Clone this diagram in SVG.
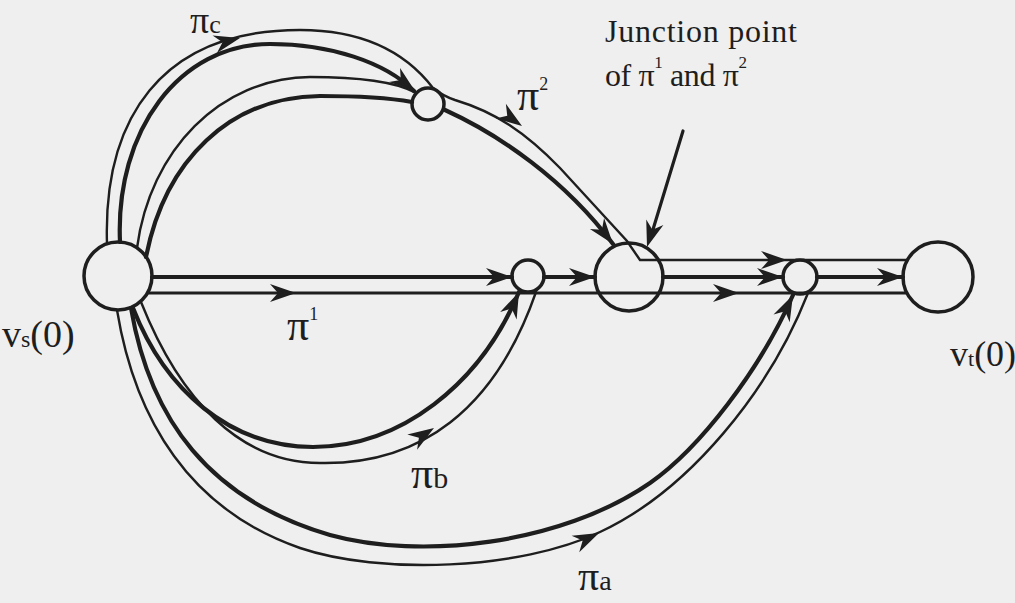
<svg xmlns="http://www.w3.org/2000/svg" width="1015" height="603" viewBox="0 0 1015 603">
<style>
.nd{fill:none;stroke:#1e1e1e;stroke-width:3.5}
.thk{fill:none;stroke:#1e1e1e;stroke-width:4.2;stroke-linecap:round}
.thn{fill:none;stroke:#1e1e1e;stroke-width:2.4;stroke-linecap:round}
.med{fill:none;stroke:#1e1e1e;stroke-width:3.2;stroke-linecap:round}
.ah{fill:#1e1e1e}
.lb{font-family:"Liberation Serif","DejaVu Serif",serif;fill:#1e1e1e}
</style>
<defs>
<path id="ah" class="ah" d="M0,0 L-26,-9 L-18,0 L-26,9 Z"/>
</defs>
<rect x="0" y="0" width="1015" height="603" fill="#efefef"/>

<g id="connectors">
  <!-- top arcs -->
  <path class="thn" d="M107,244 C103,120 160,30 300,30 C370,30 410,58 433,88 Q443,96 455,100 C495,112 525,132 560,168 L627,241 L640,260 L906,260"/>
  <path class="thk" d="M120,242 C115,130 180,44 270,44 C330,44 385,62 414,91"/>
  <path class="thn" d="M137,248 C150,150 220,78 310,77 C360,77 395,82 414,92"/>
  <path class="thk" d="M146,257 C165,160 230,97 320,96 C360,96 390,98 412,102"/>
  <path class="thk" d="M445,110 C500,135 565,180 613,244"/>
  <!-- straight -->
  <path class="thk" d="M152,277 L512,277 M544,277 L595,277 M663,277 L783,277 M817,277 L903,277"/>
  <path class="med" d="M148,293 L906,293"/>
  <!-- pi_b -->
  <path class="thk" d="M133,308 C165,390 230,447 313,447 C400,447 480,385 519,292"/>
  <path class="thn" d="M141,302 C180,400 240,463 320,463 C420,465 495,410 536,292"/>
  <!-- pi_a -->
  <path class="thk" d="M131,308 C150,420 210,500 330,535 C420,560 560,545 650,483 C700,448 760,370 793,295"/>
  <path class="thn" d="M117,310 C135,420 190,510 300,548 C380,575 520,570 600,532 C690,490 770,390 808,293"/>
  <!-- pointer -->
  <path class="med" d="M683,131 L651,236"/>
  <!-- arrowheads -->
  <use href="#ah" transform="translate(240,38) rotate(-14)"/>
  <use href="#ah" transform="translate(415,91) rotate(38)"/>
  <use href="#ah" transform="translate(522,126) rotate(35)"/>
  <use href="#ah" transform="translate(613,244) rotate(52)"/>
  <use href="#ah" transform="translate(647,247) rotate(107.5)"/>
  <use href="#ah" transform="translate(512,277)"/>
  <use href="#ah" transform="translate(595,277)"/>
  <use href="#ah" transform="translate(783,277)"/>
  <use href="#ah" transform="translate(903,277)"/>
  <use href="#ah" transform="translate(787,260)"/>
  <use href="#ah" transform="translate(296,293)"/>
  <use href="#ah" transform="translate(739,293)"/>
  <use href="#ah" transform="translate(519,292) rotate(-66)"/>
  <use href="#ah" transform="translate(434,428) rotate(-33)"/>
  <use href="#ah" transform="translate(793,295) rotate(-64)"/>
  <use href="#ah" transform="translate(599,533) rotate(-25)"/>
</g>

<g id="node-vs"><circle class="nd" cx="118" cy="276" r="34"/></g>
<g id="node-a"><circle class="nd" cx="428" cy="104" r="16"/></g>
<g id="node-b"><circle class="nd" cx="528" cy="276" r="16"/></g>
<g id="node-j"><circle class="nd" cx="629" cy="277" r="34"/></g>
<g id="node-c"><circle class="nd" cx="800" cy="277" r="17"/></g>
<g id="node-vt"><circle class="nd" cx="938" cy="277" r="35"/></g>

<g id="labels">
  <text class="lb" x="190" y="33" font-size="38">π<tspan font-size="26">c</tspan></text>
  <text class="lb" x="517" y="110" font-size="44">π<tspan font-size="18" dy="-20">2</tspan></text>
  <text class="lb" x="287" y="340" font-size="44">π<tspan font-size="18" dy="-20">1</tspan></text>
  <text class="lb" x="411" y="488" font-size="44">π<tspan font-size="30">b</tspan></text>
  <text class="lb" x="578" y="590" font-size="42">π<tspan font-size="28">a</tspan></text>
  <text class="lb" x="2" y="347" font-size="38">v<tspan font-size="24">s</tspan>(0)</text>
  <text class="lb" x="950" y="366" font-size="36">v<tspan font-size="22">t</tspan>(0)</text>
  <text class="lb" x="605" y="42" font-size="32" textLength="192">Junction point</text>
  <text class="lb" x="605" y="86" font-size="32" textLength="142">of π<tspan font-size="17" dy="-18">1</tspan><tspan dy="18"> and π</tspan><tspan font-size="17" dy="-18">2</tspan></text>
</g>
</svg>
